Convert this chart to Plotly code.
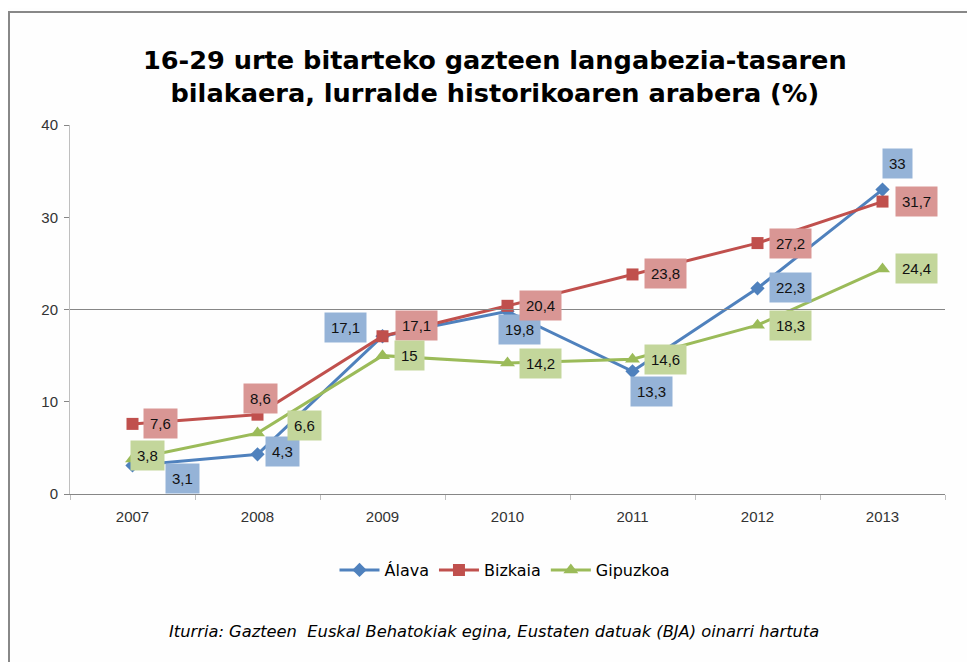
import plotly.graph_objects as go

years = ["2007", "2008", "2009", "2010", "2011", "2012", "2013"]
alava = [3.1, 4.3, 17.1, 19.8, 13.3, 22.3, 33]
bizkaia = [7.6, 8.6, 17.1, 20.4, 23.8, 27.2, 31.7]
gipuzkoa = [3.8, 6.6, 15, 14.2, 14.6, 18.3, 24.4]
y_ticks = [0, 10, 20, 30, 40]

# label offsets in pixels (x, y-up)
alava_off = [(50, -13), (25, 3), (-37, 9), (12, -18), (19, -20), (33, 1), (15, 26)]
bizkaia_off = [(28, 0), (3, 16), (34, 11), (33, 0), (33, 1), (33, 0), (34, 0)]
gipuzkoa_off = [(15, 3), (47, 8), (27, 0), (33, 0), (33, 0), (33, 0), (34, 0)]

series = [
    ("Álava", alava, "#4F81BD", "#95B3D7", "diamond", 11, alava_off),
    ("Bizkaia", bizkaia, "#C0504D", "#D99694", "square", 12, bizkaia_off),
    ("Gipuzkoa", gipuzkoa, "#9BBB59", "#C3D69B", "triangle-up", 13, gipuzkoa_off),
]

fig = go.Figure()
annotations = []
for name, vals, col, light, sym, msize, offs in series:
    fig.add_trace(go.Scatter(
        x=years, y=vals, name=name, mode="lines+markers",
        line=dict(color=col, width=3),
        marker=dict(symbol=sym, size=msize, color=col),
    ))
    for i, (v, (dx, dy)) in enumerate(zip(vals, offs)):
        annotations.append(dict(
            x=i, y=v, xref="x", yref="y", showarrow=False,
            text=f"{v:g}".replace(".", ","),
            font=dict(family="Liberation Sans", size=15, color="#111111"),
            bgcolor=light, borderpad=6, xshift=dx, yshift=dy,
        ))

# page has an 8px body margin: reference pixel (X, Y) -> figure pixel (X-8, Y-8)
OFF = 8
W, H = 975 - OFF, 662 - OFF
L, T = 70 - OFF, 125 - OFF
pw, ph = 875, 369
R, B = W - L - pw, H - T - ph

def px(x):
    return (x - OFF - L) / pw

def py(y):
    return (T + ph - (y - OFF)) / ph

annotations.append(dict(
    x=px(494), y=py(631), xref="paper", yref="paper", showarrow=False,
    xanchor="center", yanchor="middle",
    text="<i>Iturria: Gazteen  Euskal Behatokiak egina, Eustaten datuak (BJA) oinarri hartuta</i>",
    font=dict(family="DejaVu Sans", size=16.3, color="#000000"),
))
annotations.append(dict(
    x=px(495), y=py(76), xref="paper", yref="paper", showarrow=False,
    xanchor="center", yanchor="middle",
    text="<b>16-29 urte bitarteko gazteen langabezia-tasaren<br>bilakaera, lurralde historikoaren arabera (%)</b>",
    font=dict(family="DejaVu Sans", size=25.6, color="#000000"),
))

shapes = [
    dict(type="line", xref="paper", yref="y", x0=0, x1=1, y0=20, y1=20,
         line=dict(color="#868686", width=1)),
    dict(type="line", xref="paper", yref="paper", x0=px(8), x1=px(990), y0=py(12), y1=py(12),
         line=dict(color="#888888", width=2)),
    dict(type="line", xref="paper", yref="paper", x0=px(9), x1=px(9), y0=py(12), y1=py(680),
         line=dict(color="#888888", width=2)),
]

fig.update_layout(
    width=W, height=H,
    margin=dict(l=L, r=R, t=T, b=B),
    paper_bgcolor="#FEFEFE", plot_bgcolor="#FEFEFE",
    showlegend=True,
    legend=dict(orientation="h", x=px(505), xanchor="center", y=py(570), yanchor="middle",
                font=dict(family="DejaVu Sans", size=16, color="#000000"),
                itemwidth=40, traceorder="normal"),
    annotations=annotations, shapes=shapes,
    xaxis=dict(type="category", tickson="boundaries", ticks="outside", ticklen=5,
               tickcolor="#BFBFBF", showline=True, linecolor="#868686", linewidth=1,
               showgrid=False, range=[-0.5, 6.5], ticklabelstandoff=9,
               tickfont=dict(family="Liberation Sans", size=15, color="#333333")),
    yaxis=dict(range=[0, 40], tickvals=y_ticks, ticks="outside", ticklen=5,
               tickcolor="#868686", showline=True, linecolor="#BFBFBF", linewidth=1,
               showgrid=False, zeroline=False, ticklabelstandoff=3,
               tickfont=dict(family="Liberation Sans", size=15, color="#333333")),
)

fig.write_html("out.html")
